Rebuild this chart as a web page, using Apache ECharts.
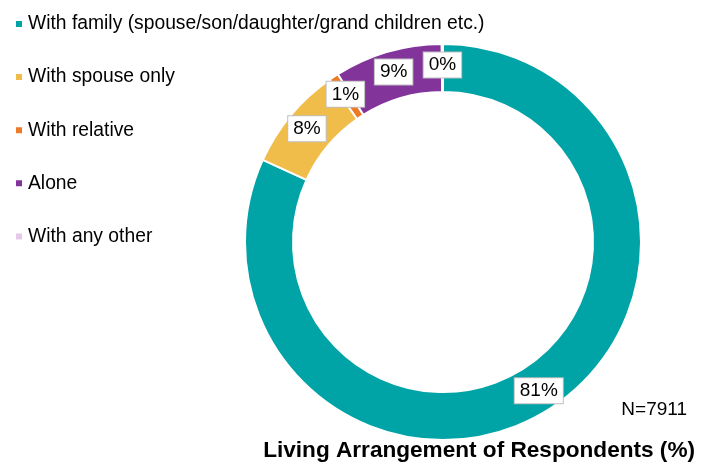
<!DOCTYPE html>
<html>
<head>
<meta charset="utf-8">
<script src="https://cdn.jsdelivr.net/npm/echarts@6/dist/echarts.min.js"></script>
<style>
  html, body { margin: 0; padding: 0; background: #fff; }
  #chart { width: 701px; height: 464px; }
</style>
</head>
<body>
<div id="chart"></div>
<script>
// Living arrangement categories and their shares (%)
const categories = [
  'With family (spouse/son/daughter/grand children etc.)',
  'With spouse only',
  'With relative',
  'Alone',
  'With any other'
];
const shares = [81.8, 8.5, 0.8, 8.8, 0.1];
const shareLabels = ['81%', '8%', '1%', '9%', '0%'];
const colors = ['#00A3A6', '#F0BD4A', '#EC7A27', '#82349A', '#E6C8EA'];

const FONT = 'Liberation Sans, Arial, sans-serif';
const chart = echarts.init(document.getElementById('chart'), null, { renderer: 'canvas' });

chart.setOption({
  animation: false,
  color: colors,
  title: [
    {
      text: 'Living Arrangement of Respondents (%)',
      right: 6, top: 439, padding: 0,
      textStyle: { fontFamily: FONT, fontSize: 22.6, lineHeight: 24, fontWeight: 'bold', color: '#000' }
    },
    {
      text: 'N=7911',
      right: 14, top: 400, padding: 0,
      textStyle: { fontFamily: FONT, fontSize: 19, lineHeight: 20, fontWeight: 'normal', color: '#000' }
    }
  ],
  legend: {
    orient: 'vertical',
    left: 9, top: 9,
    itemWidth: 8, itemHeight: 8,
    itemGap: 33.1,
    icon: 'rect',
    textStyle: { fontFamily: FONT, fontSize: 19.3, lineHeight: 20, color: '#000' },
    data: categories
  },
  series: [{
    type: 'pie',
    center: [443, 242],
    radius: [150, 198],
    startAngle: 90,
    clockwise: true,
    avoidLabelOverlap: false,
    itemStyle: { borderColor: '#fff', borderWidth: 2 },
    label: {
      show: true,
      position: 'inside',
      formatter: p => shareLabels[p.dataIndex],
      fontFamily: FONT,
      fontSize: 19,
      lineHeight: 20,
      color: '#000',
      backgroundColor: '#fff',
      borderColor: '#BFBFBF',
      borderWidth: 1,
      padding: [3, 5, 2, 5]
    },
    labelLine: { show: false },
    emphasis: { disabled: true },
    data: categories.map((name, i) => ({ name, value: shares[i] }))
  }]
});
</script>
</body>
</html>
